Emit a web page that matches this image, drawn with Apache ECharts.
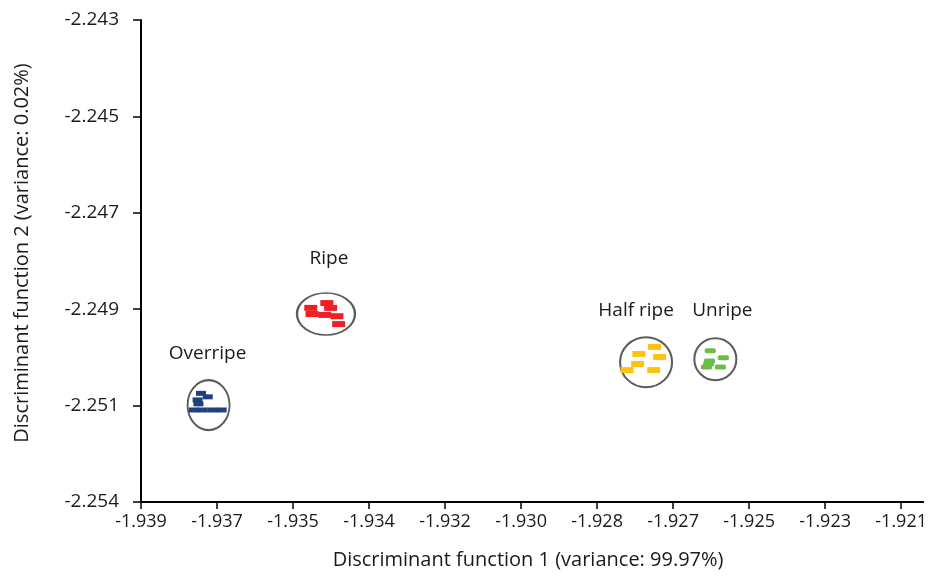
<!DOCTYPE html>
<html>
<head>
<meta charset="utf-8">
<script src="https://cdn.jsdelivr.net/npm/echarts@6/dist/echarts.min.js"></script>
<style>
  html, body { margin: 0; padding: 0; background: #fff; }
  #chart { width: 930px; height: 576px; }
</style>
</head>
<body>
<div id="chart"></div>
<script>
// tick labels as printed on the original axes
var xTickLabels = ["-1.939", "-1.937", "-1.935", "-1.934", "-1.932", "-1.930", "-1.928", "-1.927", "-1.925", "-1.923", "-1.921"];
var yTickLabels = ["-2.254", "-2.251", "-2.249", "-2.247", "-2.245", "-2.243"];

// samples per ripeness class
var overripeX = [-1.93758, -1.93742, -1.93766, -1.93764, -1.93775, -1.93754, -1.93731, -1.93709];
var overripeY = [-2.25152, -2.25160, -2.25167, -2.25176, -2.25190, -2.25190, -2.25190, -2.25190];
var ripeX = [-1.93460, -1.93498, -1.93451, -1.93495, -1.93465, -1.93436, -1.93432];
var ripeY = [-2.24946, -2.24957, -2.24957, -2.24971, -2.24973, -2.24976, -2.24994];
var halfRipeX = [-1.92684, -1.92721, -1.92672, -1.92724, -1.92686, -1.92749];
var halfRipeY = [-2.25046, -2.25062, -2.25069, -2.25085, -2.25099, -2.25099];
var unripeX = [-1.92552, -1.92521, -1.92554, -1.92561, -1.92528, -1.92556];
var unripeY = [-2.25055, -2.25071, -2.25078, -2.25092, -2.25092, -2.25085];

// group centroids (ellipses)
var groupNames = ["Overripe", "Ripe", "Half ripe", "Unripe"];
var centerX = [-1.93740, -1.93462, -1.92704, -1.92540];
var centerY = [-2.25179, -2.24971, -2.25081, -2.25074];

var xMin = -1.939, xLast = -1.921, xMax = -1.92048;
var yMin = -2.254, yMax = -2.243;

function evenTicks(a, b, n) {
  var out = [];
  for (var i = 0; i < n; i++) out.push(a + (b - a) * i / (n - 1));
  return out;
}
var xTicks = evenTicks(xMin, xLast, xTickLabels.length);
var yTicks = evenTicks(yMin, yMax, yTickLabels.length);

function tickText(ticks, labels) {
  return function (v) {
    for (var i = 0; i < ticks.length; i++) {
      if (Math.abs(ticks[i] - v) < 1e-7) return labels[i];
    }
    return "";
  };
}
function zip(xs, ys) {
  return xs.map(function (x, i) { return [x, ys[i]]; });
}

var font = "'Open Sans', 'Noto Sans', sans-serif";
var textColor = "#1a1a1a";
var chart = echarts.init(document.getElementById("chart"), null, { renderer: "canvas" });

// ellipse sizes & label nudges (px)
var ringSize = [[42, 50], [58, 42], [52, 50], [42, 42]];
var labelDist = [16, 24, 16, 17];
var labelShift = [[-1, 0], [3, 0], [-10, 0], [7, 0]];

var option = {
  animation: false,
  grid: { left: 141, right: 2, top: 20, bottom: 74 },
  xAxis: {
    type: "value",
    min: xMin,
    max: xMax,
    name: "Discriminant function 1 (variance: 99.97%)",
    nameLocation: "middle",
    nameGap: 48,
    nameTextStyle: { fontFamily: font, fontSize: 20, color: textColor, padding: [0, 8, 0, 0] },
    splitLine: { show: false },
    axisLine: { lineStyle: { color: "#000", width: 2 } },
    axisTick: { customValues: xTicks, length: 7, lineStyle: { color: "#000", width: 1.5 } },
    axisLabel: {
      customValues: xTicks,
      formatter: tickText(xTicks, xTickLabels),
      fontFamily: font, fontSize: 18, color: textColor, margin: 11
    }
  },
  yAxis: {
    type: "value",
    min: yMin,
    max: yMax,
    name: "Discriminant function 2 (variance: 0.02%)",
    nameLocation: "middle",
    nameGap: 109,
    nameTextStyle: { fontFamily: font, fontSize: 20, color: textColor, padding: [0, 0, 0, 16] },
    splitLine: { show: false },
    axisLine: { lineStyle: { color: "#000", width: 2 } },
    axisTick: { customValues: yTicks, length: 8, lineStyle: { color: "#000", width: 1.5 } },
    axisLabel: {
      customValues: yTicks,
      formatter: tickText(yTicks, yTickLabels),
      fontFamily: font, fontSize: 19, color: textColor, margin: 22
    }
  },
  series: [
    {
      name: "groups",
      type: "scatter",
      z: 1,
      silent: true,
      symbol: "circle",
      itemStyle: { color: "rgba(255,255,255,0)", borderColor: "#5c5c5c", borderWidth: 2, opacity: 1 },
      data: groupNames.map(function (n, i) {
        return {
          name: n,
          value: [centerX[i], centerY[i]],
          symbolSize: ringSize[i],
          label: {
            show: true,
            position: "top",
            distance: labelDist[i],
            offset: labelShift[i],
            formatter: n,
            fontFamily: font,
            fontSize: 19,
            color: textColor
          }
        };
      })
    },
    { name: "Overripe", type: "scatter", z: 3, symbol: "rect", symbolSize: [10, 5], itemStyle: { color: "#1f3f7f", opacity: 1 }, data: zip(overripeX, overripeY) },
    { name: "Ripe", type: "scatter", z: 3, symbol: "rect", symbolSize: [13, 6], itemStyle: { color: "#ee2026", opacity: 1 }, data: zip(ripeX, ripeY) },
    { name: "Half ripe", type: "scatter", z: 3, symbol: "rect", symbolSize: [13, 6], itemStyle: { color: "#ffc20e", opacity: 1 }, data: zip(halfRipeX, halfRipeY) },
    { name: "Unripe", type: "scatter", z: 3, symbol: "roundRect", symbolSize: [11, 5], itemStyle: { color: "#6cbd45", opacity: 1 }, data: zip(unripeX, unripeY) }
  ]
};
chart.setOption(option);
window.addEventListener("resize", function () { chart.resize(); });
</script>
</body>
</html>
